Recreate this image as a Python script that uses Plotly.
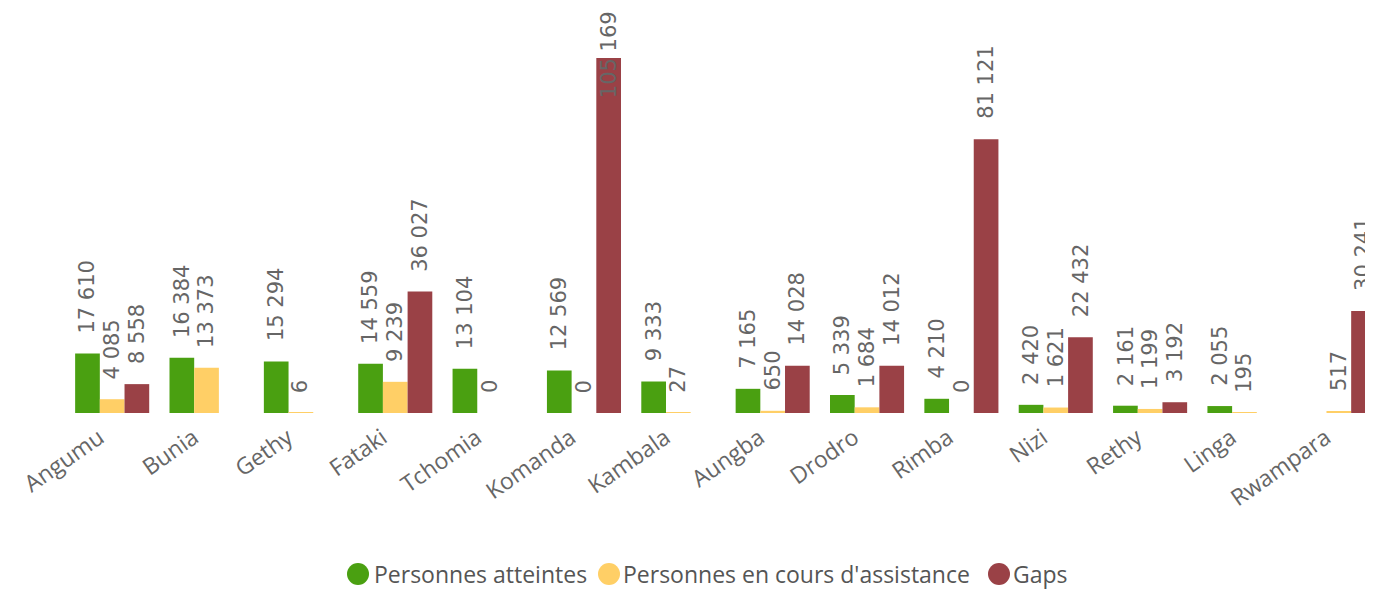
import plotly.graph_objects as go

categories = ["Angumu", "Bunia", "Gethy", "Fataki", "Tchomia", "Komanda", "Kambala",
              "Aungba", "Drodro", "Rimba", "Nizi", "Rethy", "Linga", "Rwampara"]
atteintes = [17610, 16384, 15294, 14559, 13104, 12569, 9333, 7165, 5339, 4210, 2420, 2161, 2055, None]
en_cours = [4085, 13373, 6, 9239, 0, 0, 27, 650, 1684, 0, 1621, 1199, 195, 517]
gaps = [8558, None, None, 36027, None, 105169, None, 14028, 14012, 81121, 22432, 3192, None, 30241]

series_names = ["Personnes atteintes", "Personnes en cours d'assistance", "Gaps"]
series_values = [atteintes, en_cours, gaps]
series_colors = ["#4aa011", "#ffcf66", "#9a4146"]

YMAX = 120000
LABEL_CAP = 87400   # labels cannot go above the plot area
BARGAP = 0.215

# page layout (browser body has an 8px margin)
BODY = 8
FIG_W, FIG_H = 1378, 589
M_L, M_R, M_T, M_B = 57, 0, 0, 184
PLOT_L = BODY + M_L
PLOT_W = FIG_W - M_L - M_R
PLOT_BOTTOM = BODY + M_T + (FIG_H - M_T - M_B)
PLOT_H = FIG_H - M_T - M_B

def px_to_paper_x(px):
    return (px - PLOT_L) / PLOT_W

def px_to_paper_y(py):
    return (PLOT_BOTTOM - py) / PLOT_H

def fmt(v):
    return f"{v:,}".replace(",", " ")

fig = go.Figure()
annotations = []
shapes = []
w = (1 - BARGAP) / 3
for s, (name, vals, color) in enumerate(zip(series_names, series_values, series_colors)):
    fig.add_trace(go.Bar(x=categories, y=vals, name=name, marker_color=color,
                         marker_line_width=0, showlegend=False))
    for i, v in enumerate(vals):
        if v is None:
            continue
        annotations.append(dict(
            x=i + (s - 1) * w, y=min(v, LABEL_CAP), xref="x", yref="y",
            text=fmt(v), textangle=-90, showarrow=False,
            yanchor="bottom", xanchor="center", yshift=18,
            font=dict(family="DejaVu Sans", size=21, color="#666666"),
        ))

# custom legend with large circles
legend_circle_px = [358, 609, 999]
legend_text_px = [372, 621, 1011]
legend_y = px_to_paper_y(574)
for name, color, cx, tx in zip(series_names, series_colors, legend_circle_px, legend_text_px):
    shapes.append(dict(type="circle", xref="paper", yref="paper",
                       xsizemode="pixel", ysizemode="pixel",
                       xanchor=px_to_paper_x(cx), yanchor=legend_y,
                       x0=-11, x1=11, y0=-11, y1=11,
                       fillcolor=color, line_width=0))
    annotations.append(dict(x=px_to_paper_x(tx), y=legend_y, xref="paper", yref="paper",
                            text=name, showarrow=False, xanchor="left", yanchor="middle",
                            font=dict(family="Open Sans", size=23, color="#555555")))

fig.update_layout(
    width=FIG_W, height=FIG_H,
    margin=dict(l=M_L, r=M_R, t=M_T, b=M_B, autoexpand=False),
    paper_bgcolor="white", plot_bgcolor="white",
    barmode="group", bargap=BARGAP, bargroupgap=0,
    annotations=annotations, shapes=shapes,
    xaxis=dict(range=[-0.5, 13.5], tickangle=-35, showline=False, showgrid=False,
               ticks="", automargin=False, ticklabelshift=-13, ticklabelstandoff=6,
               tickfont=dict(family="Open Sans", size=23, color="#666666")),
    yaxis=dict(range=[0, YMAX], visible=False, showgrid=False, zeroline=False),
    showlegend=False,
)

fig.write_html("out.html")
